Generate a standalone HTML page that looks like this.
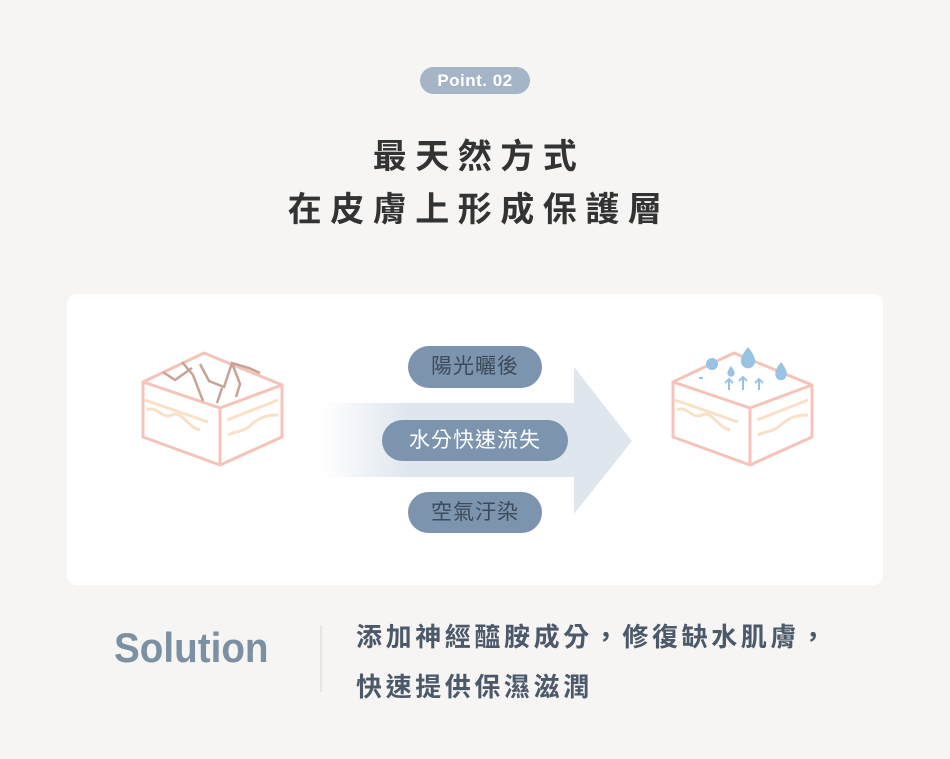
<!DOCTYPE html>
<html><head><meta charset="utf-8"><style>
body{margin:0;width:950px;height:759px;background:#f6f5f3;position:relative;overflow:hidden;font-family:"Liberation Sans","Noto Sans CJK TC",sans-serif}
.a{position:absolute}
.pill{position:absolute;border-radius:22px;background:#7d94ae;text-align:center;font-size:21px;letter-spacing:1px}
</style></head><body>
<div class="a" style="left:420px;top:67px;width:110px;height:27px;border-radius:14px;background:#a5b5c7;color:#fff;font-weight:bold;font-size:17px;letter-spacing:0.5px;line-height:27px;text-align:center">Point. 02</div>
<div class="a" style="left:0;top:131px;width:958px;text-align:center;font-size:34px;font-weight:bold;letter-spacing:8.5px;color:#333;line-height:53px">最天然方式<br>在皮膚上形成保護層</div>
<div class="a" style="left:67px;top:294px;width:816px;height:291px;background:#fff;border-radius:10px"></div>
<svg class="a" style="left:0;top:0" width="950" height="759">
<defs><linearGradient id="g" x1="0" x2="1"><stop offset="0" stop-color="#dfe6ee" stop-opacity="0"/><stop offset="0.35" stop-color="#dfe6ee"/></linearGradient></defs>
<rect x="320" y="403" width="255" height="74" fill="url(#g)"/>
<polygon points="574,367 632,441 574,514" fill="#dfe6ee"/>
<g fill="none" stroke="#f6c3b8" stroke-width="3" stroke-linejoin="round">
<polygon points="204,353 143,382 220,408 282,385"/>
<polyline points="143,382 143,437 220,465 282,437 282,385"/>
<line x1="220" y1="408" x2="220" y2="465"/>
<polygon points="734,353 673,382 750,408 812,385"/>
<polyline points="673,382 673,437 750,465 812,437 812,385"/>
<line x1="750" y1="408" x2="750" y2="465"/>
</g>
<g fill="none" stroke="#fbe0c8" stroke-width="3">
<path d="M145,400 L208,422 M227,420 L278,400"/>
<path d="M147,410 c10,-5 15,10 25,5 c10,-5 15,12 28,15 M228,435 c10,-5 15,-2 25,-12 c8,-6 14,-8 25,-8"/>
<path d="M675,400 L738,422 M757,420 L808,400"/>
<path d="M677,410 c10,-5 15,10 25,5 c10,-5 15,12 28,15 M758,435 c10,-5 15,-2 25,-12 c8,-6 14,-8 25,-8"/>
</g>
<g fill="none" stroke="#c7a295" stroke-width="2.5">
<path d="M163,372 L175,380 L192,368 M182,362 L193,375 L203,401 M200,364 L209,381 L224,387 L232,363 L249,368 L260,373 M232,363 L240,384 L236,397 M222,388 L217,403"/>
</g>
<g fill="#9ac3e3">
<circle cx="712" cy="364" r="6"/>
<path d="M748,347 q-10,12 -6,18 a7,7 0 0 0 12,0 q4,-6 -6,-18z"/>
<path d="M781,362 q-8,10 -5,15 a5.5,5.5 0 0 0 10,0 q3,-5 -5,-15z"/>
<path d="M731,366 q-5,6 -3,9 a3.5,3.5 0 0 0 6,0 q2,-3 -3,-9z"/>
</g>
<g stroke="#9ac3e3" stroke-width="2" fill="none">
<path d="M729,390 v-11 M725,383 l4,-4 4,4 M743,390 v-13 M739,381 l4,-4 4,4 M759,390 v-11 M755,383 l4,-4 4,4 M699,378 h4"/>
</g>
<line x1="321" y1="625" x2="321" y2="692" stroke="#d8d8d8" stroke-width="1"/>
</svg>
<div class="pill" style="left:408px;top:346px;width:134px;height:42px;line-height:42px;color:#3d4a5a">陽光曬後</div>
<div class="pill" style="left:382px;top:420px;width:186px;height:41px;line-height:41px;color:#fff">水分快速流失</div>
<div class="pill" style="left:408px;top:492px;width:134px;height:41px;line-height:41px;color:#3d4a5a">空氣汙染</div>
<div class="a" style="left:114px;top:624px;font-size:42px;font-weight:bold;color:#7b90a3;transform:scaleX(0.92);transform-origin:left top">Solution</div>
<div class="a" style="left:356px;top:612px;font-size:26px;font-weight:bold;color:#4b596a;letter-spacing:3.6px;line-height:50px;white-space:nowrap">添加神經醯胺成分，修復缺水肌膚，<br>快速提供保濕滋潤</div>
</body></html>
